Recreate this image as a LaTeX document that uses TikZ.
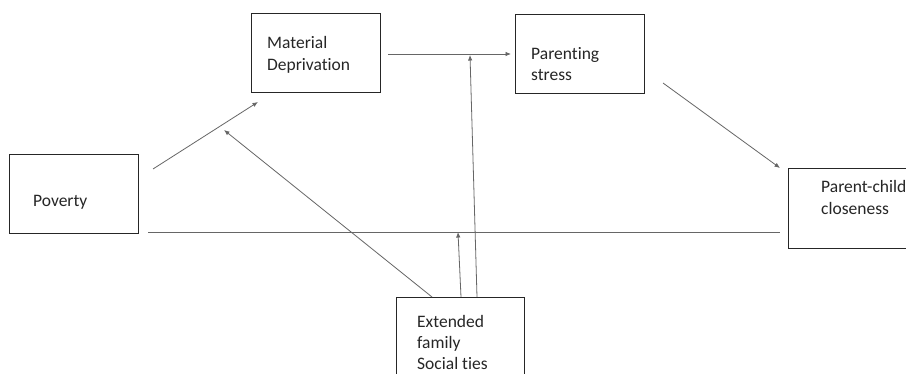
\documentclass[tikz,border=0pt]{standalone}
\usepackage{fontspec}
\setmainfont[Ligatures={NoCommon,NoRare,NoContextual}]{Carlito}
\usetikzlibrary{arrows.meta}
\begin{document}
\begin{tikzpicture}[x=1pt,y=-1pt,
  box/.style={draw=black!85,line width=0.9pt,inner sep=0pt},
  lbl/.style={anchor=west,inner sep=0pt,align=left,font=\fontsize{17.5}{21.8}\selectfont,text=black!85},
  conn/.style={draw=black!60,line width=0.8pt},
  arr/.style={conn,-{Latex[length=5.5pt,width=4.5pt]},},
]
\clip (0,0) rectangle (906,374);
\fill[white] (0,0) rectangle (906,374);
% boxes
\node[box,minimum width=129pt,minimum height=79pt] (pov) at (73.5,193.5) {};
\node[box,minimum width=129pt,minimum height=79pt] (mat) at (315.5,52.5) {};
\node[box,minimum width=129pt,minimum height=79pt] (par) at (579.5,53.5) {};
\node[box,minimum width=140pt,minimum height=80pt] (pcc) at (858,208) {};
\node[box,minimum width=128pt,minimum height=100pt] (ext) at (460,347) {};
% labels
\node[lbl] (tpov) at (33,202) {Poverty};
\node[lbl] (tmat) at (267,54.5) {Material\\Deprivation};
\node[lbl] (tpar) at (531,64) {Parenting\\stress};
\node[lbl] (tpcc) at (821,197.5) {Parent-child\\closeness};
\node[lbl,font=\fontsize{17.5}{21}\selectfont] (text) at (417,342.5) {Extended\\family\\Social ties};
% connector end points
\coordinate (a1) at (153,169);
\coordinate (a2) at (258,102);
\coordinate (b1) at (388,54);
\coordinate (b2) at (511,54);
\coordinate (c1) at (663,83);
\coordinate (c2) at (780,168);
\coordinate (d1) at (148,232);
\coordinate (d2) at (780,232);
\coordinate (e1) at (432,297);
\coordinate (e2) at (224,130);
\coordinate (f1) at (477,297);
\coordinate (f2) at (470,55);
\coordinate (g1) at (461,297);
\coordinate (g2) at (458,232);
% connectors
\draw[arr] (a1) -- (a2);
\draw[arr] (b1) -- (b2);
\draw[arr] (c1) -- (c2);
\draw[conn] (d1) -- (d2);
\draw[arr] (e1) -- (e2);
\draw[arr] (f1) -- (f2);
\draw[arr] (g1) -- (g2);
\end{tikzpicture}
\end{document}
